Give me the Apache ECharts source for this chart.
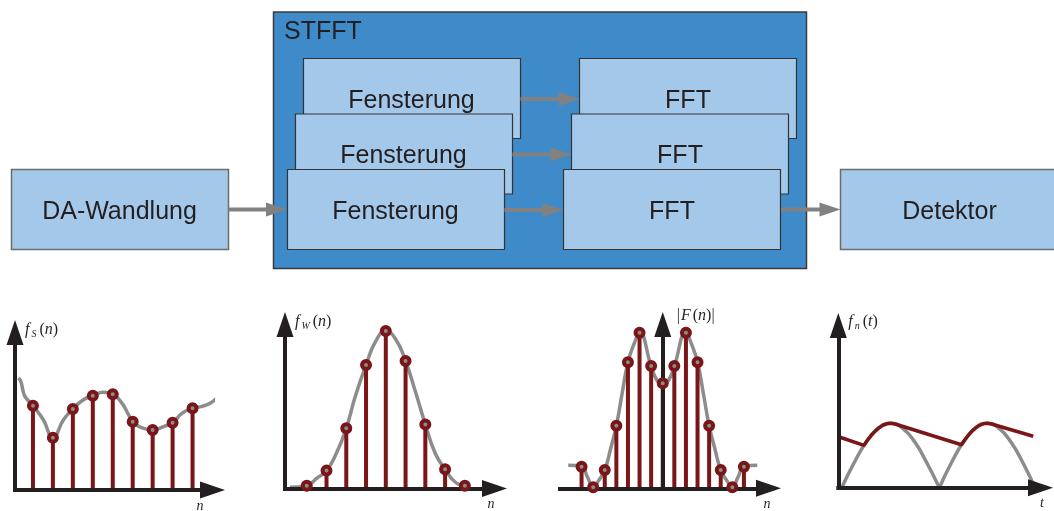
<!DOCTYPE html>
<html>
<head>
<meta charset="utf-8">
<script src="https://cdn.jsdelivr.net/npm/echarts@6/dist/echarts.min.js"></script>
<style>
  html, body { margin: 0; padding: 0; background: #ffffff; }
  #chart { width: 1054px; height: 511px; }
</style>
</head>
<body>
<div id="chart"></div>
<script>
// ---- Abgetastetes Signal f_S(n) ----
const sampledN = [1, 2, 3, 4, 5, 6, 7, 8, 9];
const sampledValues = [5.35, 3.32, 5.14, 5.99, 6.08, 4.34, 3.81, 4.27, 5.19];
const signalCurve = [
  [0.27, 7.11], [0.39, 6.9], [0.49, 6.37], [0.6, 5.94], [1, 5.35], [1.52, 4.46],
  [2, 3.32], [2.53, 4.46], [3, 5.14], [3.53, 5.73], [4, 5.99], [4.54, 6.2],
  [5, 6.08], [5.46, 5.52], [5.79, 4.78], [6, 4.34], [6.38, 3.99], [7, 3.81],
  [7.55, 4.03], [8, 4.27], [8.48, 4.88], [9, 5.19], [9.48, 5.31], [9.9, 5.52], [10.24, 5.88]
];

// ---- Fensterfunktion f_W(n) ----
const windowN = [1, 2, 3, 4, 5, 6, 7, 8, 9];
const windowValues = [0.17, 1.09, 3.67, 7.53, 9.6, 7.77, 3.91, 1.17, 0.17];
const windowCurve = [
  [0.15, 0.07], [1, 0.17], [1.5, 0.62], [2, 1.09], [2.5, 2.15], [3, 3.67],
  [3.45, 5.6], [4, 7.53], [4.5, 9.0], [5, 9.6], [5.5, 9.1], [6, 7.77],
  [6.5, 5.9], [7, 3.91], [7.5, 2.15], [8, 1.17], [8.55, 0.35], [9, 0.17], [9.2, 0.07]
];

// ---- Betragsspektrum |F(n)| ----
const spectrumN = [-7, -6, -5, -4, -3, -2, -1, 0, 1, 2, 3, 4, 5, 6, 7];
const spectrumValues = [1.32, 0.06, 1.12, 3.82, 7.69, 9.5, 7.47, 6.41, 7.47, 9.5, 7.69, 3.82, 1.12, 0.06, 1.32];
const spectrumCurve = [
  [-8.15, 1.4], [-7, 1.32], [-6.5, 0.7], [-6, 0.06], [-5.5, 0.5], [-5, 1.12],
  [-4.5, 2.4], [-4, 3.82], [-3.5, 5.8], [-3, 7.69], [-2.4, 8.95], [-2, 9.5],
  [-1, 7.47], [-0.5, 6.6], [0, 6.41], [0.5, 6.6], [1, 7.47], [2, 9.5],
  [2.4, 8.95], [3, 7.69], [3.5, 5.8], [4, 3.82], [4.5, 2.4], [5, 1.12],
  [5.5, 0.5], [6, 0.06], [6.5, 0.7], [7, 1.32], [8.15, 1.4]
];

// ---- Detektor f_n(t): gleichgerichtete Halbwellen und Hüllkurve ----
const rectifiedArch1 = [
  [0.035, 0], [0.162, 1.52], [0.286, 2.8], [0.413, 3.66], [0.538, 3.97],
  [0.664, 3.66], [0.791, 2.8], [0.914, 1.52], [1.042, 0]
];
const rectifiedArch2 = [
  [1.042, 0], [1.165, 1.52], [1.288, 2.8], [1.412, 3.66], [1.535, 3.97],
  [1.658, 3.66], [1.782, 2.8], [1.905, 1.52], [2.028, 0]
];
const envelopeCurve = [
  [0.018, 3.11], [0.265, 2.61], [0.3, 2.92], [0.34, 3.23], [0.38, 3.49],
  [0.42, 3.7], [0.46, 3.85], [0.5, 3.94], [0.54, 3.97], [0.586, 3.93],
  [1.27, 2.65], [1.3, 2.91], [1.34, 3.23], [1.38, 3.5], [1.42, 3.71],
  [1.46, 3.86], [1.5, 3.95], [1.535, 3.97], [1.58, 3.93], [2.01, 3.17]
];

// ---- Achsenbeschriftungen ----
const axisNamesY = ['{f|f}{s|S}{b|(}{i|n}{b|)}', '{f|f}{s|W}{b|(}{i|n}{b|)}', '{b||}{F|F}{b|(}{i|n}{b|)}{b||}', '{f|f}{s|n}{b|(}{i|t}{b|)}'];
const axisNamesX = ['n', 'n', 'n', 't'];

// ---- Blockschaltbild ----
const blockTitle = 'STFFT';
const inputLabel = 'DA-Wandlung';
const windowLabel = 'Fensterung';
const fftLabel = 'FFT';
const outputLabel = 'Detektor';

const RED = '#7A1518';
const GRAY = '#8C8C8C';
const INK = '#231F20';
const LIGHT = '#A4C8EA';
const MID = '#3F8BCA';
const ARROW = '#818181';
const SERIF = '"Liberation Serif", "DejaVu Serif", serif';
const SANS = '"Liberation Sans", Arial, Helvetica, sans-serif';

const chart = echarts.init(document.getElementById('chart'), null, { renderer: 'canvas' });

// ---------- block diagram (graphic layer) ----------
const graphic = [];
function box(x, y, w, h, fill, stroke, lw) {
  graphic.push({ type: 'rect', silent: true, shape: { x: x, y: y, width: w, height: h },
    style: { fill: fill, stroke: stroke, lineWidth: lw } });
}
// text is centred on the cap height, which sits a little below the em middle
function text(str, x, y, align) {
  const a = align || 'center';
  graphic.push({ type: 'text', silent: true, x: x, y: y + 2.5,
    style: { text: str, font: '25px ' + SANS, fill: INK, align: a, verticalAlign: 'middle',
      textAlign: a, textVerticalAlign: 'middle' } });
}
function arrow(x1, x2, y) {
  graphic.push({ type: 'line', silent: true, shape: { x1: x1, y1: y, x2: x2 - 18, y2: y },
    style: { stroke: ARROW, lineWidth: 4 } });
  graphic.push({ type: 'polygon', silent: true,
    shape: { points: [[x2 - 21, y - 7], [x2, y], [x2 - 21, y + 7]] }, style: { fill: ARROW } });
}

box(11.5, 169.5, 217, 80, LIGHT, '#6B6B6B', 1.5);
text(inputLabel, 119.5, 209.5);

box(273.5, 12, 533, 256.5, MID, '#3A3A3A', 1.5);
text(blockTitle, 284, 30, 'left');

const stackOffsets = [0, 1, 2];
stackOffsets.forEach(function (k) {
  const dx = -8 * k, dy = 55.5 * k;
  box(303.5 + dx, 58.5 + dy, 217, 80, LIGHT, '#333333', 1.2);
  text(windowLabel, 411.5 + dx, 98.5 + dy);
});
stackOffsets.forEach(function (k) {
  const dx = -8 * k, dy = 55.5 * k;
  box(579.5 + dx, 58.5 + dy, 217, 80, LIGHT, '#333333', 1.2);
  text(fftLabel, 688 + dx, 98.5 + dy);
});

box(840.5, 169.5, 217, 80, LIGHT, '#6B6B6B', 1.5);
text(outputLabel, 949.5, 209.5);

arrow(228.5, 287, 209.5);
stackOffsets.forEach(function (k) {
  arrow(520.5 - 8 * k, 579.5 - 8 * k, 99 + 55.5 * k);
});
arrow(781, 840.5, 209.5);

// ---------- the four small plots ----------
const grids = [
  { left: 15, top: 332.5, width: 197.5, height: 157.5 },
  { left: 285, top: 324.5, width: 209.5, height: 164 },
  { left: 560, top: 324.5, width: 208.5, height: 163.8 },
  { left: 838.3, top: 325.5, width: 202.2, height: 162.2 }
].map(function (g) { return Object.assign({ outerBoundsMode: 'none', containLabel: false }, g); });

const xRanges = [[0.1, 10], [-0.1, 10.5], [-8.86, 9.12], [0, 2.085]];
const xNameGaps = [-12.5, -3.5, -1.5, 1.5];
const yNameGaps = [2.5, 2.5, 8.5, 3.5];
const yNamePads = [10, 10, 14, 10];

function arrowLine(onZero) {
  return { show: true, onZero: onZero, symbol: ['none', 'triangle'], symbolSize: [17, 25],
    lineStyle: { color: INK, width: 4, cap: 'square' } };
}

const richName = {
  f: { fontFamily: SERIF, fontStyle: 'italic', fontSize: 16, color: INK, lineHeight: 18, padding: [0, 2, 0, 0] },
  F: { fontFamily: SERIF, fontStyle: 'italic', fontSize: 16, color: INK, lineHeight: 18, padding: [0, 2, 0, 1] },
  s: { fontFamily: SERIF, fontStyle: 'italic', fontSize: 10, color: INK, lineHeight: 18, verticalAlign: 'bottom', padding: [0, 3, 0, 0] },
  b: { fontFamily: SERIF, fontSize: 16, color: INK, lineHeight: 18 },
  i: { fontFamily: SERIF, fontStyle: 'italic', fontSize: 16, color: INK, lineHeight: 18 }
};

const xAxes = xRanges.map(function (r, i) {
  return {
    type: 'value', gridIndex: i, min: r[0], max: r[1], z: 3,
    axisLine: arrowLine(false), axisTick: { show: false }, axisLabel: { show: false }, splitLine: { show: false },
    name: axisNamesX[i], nameLocation: 'end', nameGap: xNameGaps[i],
    nameTextStyle: { fontFamily: SERIF, fontStyle: 'italic', fontSize: 14, color: INK,
      align: 'center', verticalAlign: 'top', padding: [9, 0, 0, 0] }
  };
});
const yAxes = [0, 1, 2, 3].map(function (i) {
  return {
    type: 'value', gridIndex: i, min: 0, max: 10, z: 3,
    axisLine: arrowLine(i === 2), axisTick: { show: false }, axisLabel: { show: false }, splitLine: { show: false },
    name: axisNamesY[i], nameLocation: 'end', nameGap: yNameGaps[i],
    nameTextStyle: { align: 'left', verticalAlign: 'middle', padding: [0, 0, 0, yNamePads[i]], rich: richName }
  };
});

function curve(idx, data, color, smooth) {
  return { type: 'line', xAxisIndex: idx, yAxisIndex: idx, data: data, smooth: smooth,
    showSymbol: false, symbol: 'none', clip: false, silent: true, z: 1,
    lineStyle: { color: color, width: 3.5 } };
}
function stems(idx, xs, ys) {
  return { type: 'bar', xAxisIndex: idx, yAxisIndex: idx, barWidth: 4, silent: true, z: 2,
    data: xs.map(function (x, j) { return [x, ys[j]]; }), itemStyle: { color: RED } };
}
function dots(idx, xs, ys) {
  return { type: 'scatter', xAxisIndex: idx, yAxisIndex: idx, symbol: 'circle', symbolSize: 8,
    clip: false, silent: true, z: 4,
    data: xs.map(function (x, j) { return [x, ys[j]]; }),
    itemStyle: { color: GRAY, borderColor: RED, borderWidth: 4, opacity: 1 } };
}

const series = [
  curve(0, signalCurve, GRAY, true), stems(0, sampledN, sampledValues), dots(0, sampledN, sampledValues),
  curve(1, windowCurve, GRAY, true), stems(1, windowN, windowValues), dots(1, windowN, windowValues),
  curve(2, spectrumCurve, GRAY, true), stems(2, spectrumN, spectrumValues), dots(2, spectrumN, spectrumValues),
  curve(3, rectifiedArch1, GRAY, true), curve(3, rectifiedArch2, GRAY, true),
  Object.assign(curve(3, envelopeCurve, RED, false), { z: 2 })
];

chart.setOption({
  animation: false,
  backgroundColor: '#ffffff',
  grid: grids,
  xAxis: xAxes,
  yAxis: yAxes,
  series: series,
  graphic: { elements: graphic }
});
</script>
</body>
</html>
